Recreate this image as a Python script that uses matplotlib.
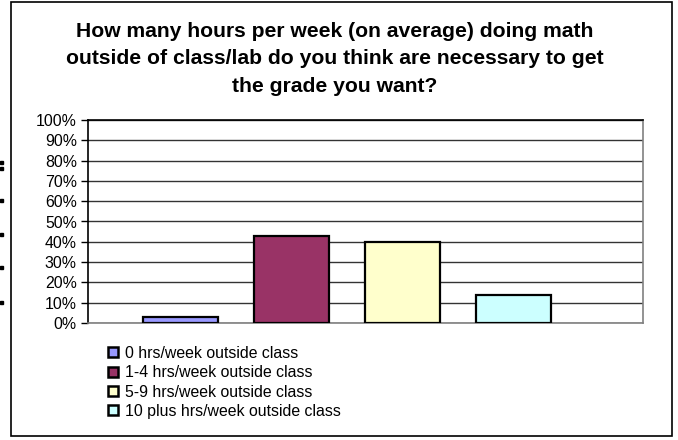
import matplotlib
matplotlib.use('Agg')
import matplotlib.pyplot as plt
from matplotlib.patches import Patch, Rectangle
from matplotlib.ticker import PercentFormatter

plt.rcParams['font.family'] = ['Liberation Sans', 'DejaVu Sans']

# Données
labels = ['0 hrs/week outside class', '1-4 hrs/week outside class',
          '5-9 hrs/week outside class', '10 plus hrs/week outside class']
values = [0.03, 0.43, 0.40, 0.14]
colors = ['#9999FF', '#993366', '#FFFFCC', '#CCFFFF']
title = ('How many hours per week (on average) doing math\n'
         'outside of class/lab do you think are necessary to get\n'
         'the grade you want?')

W, H = 678, 440
fig = plt.figure(figsize=(W / 100, H / 100), dpi=100)

# cadre du graphique
fig.patches.append(Rectangle((11 / W, 4 / H), 661 / W, 434 / H, transform=fig.transFigure,
                             fill=False, edgecolor='black', linewidth=1.2))
# petits bouts d'un autre graphique à gauche
for yy in [163, 168, 200, 235, 267, 302]:
    fig.patches.append(Rectangle((0, 1 - (yy + 1.5) / H), 3 / W, 3 / H,
                                 transform=fig.transFigure, color='black'))

ax = fig.add_axes([88 / W, 1 - 323 / H, (643 - 88) / W, (323 - 120) / H])

x = range(len(values))
ax.bar(x, values, width=0.675, color=colors, edgecolor='black', linewidth=1.6, zorder=3)

ax.set_xlim(-0.833, 4.167)
ax.set_ylim(0, 1)
ax.set_yticks([i / 10 for i in range(11)])
ax.yaxis.set_major_formatter(PercentFormatter(1.0, decimals=0))
ax.tick_params(axis='y', length=5, width=1, direction='out', pad=3, labelsize=11.4)
ax.set_xticks([])
ax.yaxis.grid(True, color='#333333', linewidth=1, zorder=0)
for side in ['left', 'top']:
    ax.spines[side].set_color('black')
for side in ['right', 'bottom']:
    ax.spines[side].set_color('#808080')
for s in ax.spines.values():
    s.set_linewidth(1.2)

fig.text(335 / W, 1 - 22 / H, title, ha='center', va='top', fontsize=15.2,
         fontweight='bold', linespacing=1.56)

handles = [Patch(facecolor=c, edgecolor='black', linewidth=1.8) for c in colors]
fig.legend(handles, labels, loc='upper left', bbox_to_anchor=(108 / W, 1 - 346 / H),
           frameon=False, fontsize=11.4, handlelength=0.6, handleheight=0.6,
           handletextpad=0.5, labelspacing=0.27, borderpad=0, borderaxespad=0)

plt.savefig('out.png', dpi=100)
